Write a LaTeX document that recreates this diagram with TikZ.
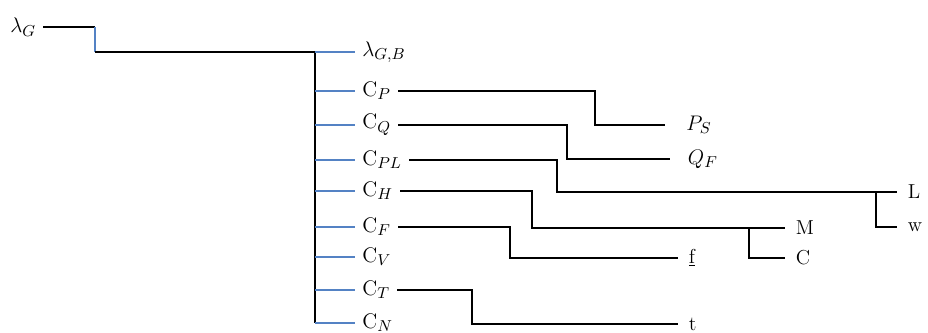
\documentclass[tikz,border=0pt]{standalone}
\usepackage{tikz}
\DeclareMathSizes{11.5}{11.5}{8.8}{7}
\definecolor{tickblue}{RGB}{84,130,196}

\begin{document}
\begin{tikzpicture}
  [x=0.02cm,y=-0.02cm,
   every node/.style={anchor=west,inner sep=0pt,inner xsep=4pt,font=\fontsize{11.5}{13}\selectfont},
   leaf/.style={inner xsep=6pt},
   tick/.style={draw=tickblue,line width=0.8pt},
   link/.style={draw=black,line width=1.1pt}]
  \useasboundingbox (0,0) rectangle (928,333);

  % root and the split
  \node (lG) at (3,27) {$\lambda_G$};
  \coordinate (gTop) at (95,27);
  \coordinate (gLow) at (95,52);
  \coordinate (split) at (315,52);

  % components
  \node (lGB) at (355,52)  {$\lambda_{G,B}$};
  \node (cP)  at (355,91)  {$\mathrm{C}_P$};
  \node (cQ)  at (355,125) {$\mathrm{C}_Q$};
  \node (cPL) at (355,160) {$\mathrm{C}_{PL}$};
  \node (cH)  at (355,191) {$\mathrm{C}_H$};
  \node (cF)  at (355,227) {$\mathrm{C}_F$};
  \node (cV)  at (355,257) {$\mathrm{C}_V$};
  \node (cT)  at (355,290) {$\mathrm{C}_T$};
  \node (cN)  at (355,323) {$\mathrm{C}_N$};

  % outputs
  \node[leaf,inner xsep=12pt] (pS) at (665,125) {$P_S$};
  \node[leaf,inner xsep=10pt] (qF) at (670,159) {$Q_F$};
  \node[leaf] (nL) at (897,192) {L};
  \node[leaf] (nw) at (897,227) {w};
  \node[leaf] (nM) at (785,228) {M};
  \node[leaf] (nC) at (785,258) {C};
  \node[leaf] (nf) at (678,258) {\underline{f}};
  \node[leaf] (nt) at (678,324) {t};

  % bends
  \coordinate (bP)  at (595,125);
  \coordinate (bQ)  at (567,159);
  \coordinate (bPL) at (557,192);
  \coordinate (bH)  at (532,228);
  \coordinate (bF)  at (510,258);
  \coordinate (bT)  at (472,324);
  \coordinate (jL)  at (876,192);
  \coordinate (jM)  at (749,228);

  \draw[link] (lG.east) -- (gTop);
  \draw[tick] (gTop) -- (gLow);
  \draw[link] (gLow) -- (split) -- (split |- cN.west);
  \foreach \n in {lGB,cP,cQ,cPL,cH,cF,cV,cT,cN}
    \draw[tick] (split |- \n.west) -- (\n.west);

  \foreach \from/\bend/\to in {cP/bP/pS,cQ/bQ/qF,cPL/bPL/nL,cH/bH/nM,cF/bF/nf,cT/bT/nt}
    \draw[link] (\from.east) -| (\bend) -- (\to.west);

  \draw[link] (jL) |- (nw.west);
  \draw[link] (jM) |- (nC.west);

\end{tikzpicture}
\end{document}
